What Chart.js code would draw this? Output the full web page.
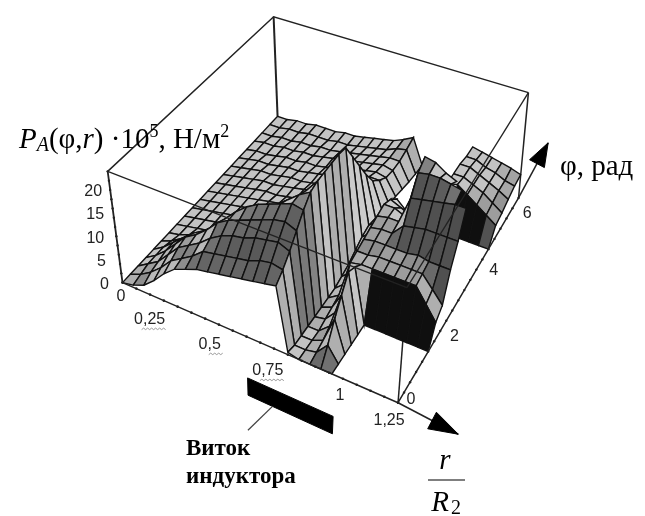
<!DOCTYPE html>
<html>
<head>
<meta charset="utf-8">
<title>P_A</title>
<script src="https://cdn.jsdelivr.net/npm/chart.js@4"></script>
<style>
    html, body { margin: 0; padding: 0; background: #fff; }
    #wrap { width: 645px; height: 516px; }
</style>
</head>
<body>
<div id="wrap"><canvas id="chart"></canvas></div>
<script>
// tick labels
const rTicks = [0.25, 0.5, 0.75, 1, 1.25];
const rTickLabels = ['0,25', '0,5', '0,75', '1', '1,25'];
const phiTicks = [0, 2, 4, 6];
const zTicks = [0, 5, 10, 15, 20];

// r = 0 ... 1.25, step 0.05 (26 columns)
const rValues = [0, .05, .1, .15, .2, .25, .3, .35, .4, .45, .5, .55, .6, .65, .7, .75, .8, .85, .9, .95, 1, 1.05, 1.1, 1.15, 1.2, 1.25];
// phi = 0 ... 2pi, 21 rows
const phiValues = [0, .314, .628, .942, 1.257, 1.571, 1.885, 2.199, 2.513, 2.827, 3.142, 3.456, 3.77, 4.084, 4.398, 4.712, 5.027, 5.341, 5.655, 5.969, 6.283];

const _ = null; // no surface here
// P values, one row for each phi
const pressure = [
    [0,.5,1.5,3.5,6,8,9,10,10.5,11,11.5,12,12.5,13,13.5, .5,0,0,0,0,_,_,_,_,_,_],
    [0,1,2.5,4.5,7,8.5,10,12,12.5,13,13.5,14,15,15.5,15, 0,0,.5,3,0,_,_,_,_,_,_],
    [0,1.5,3,5.5,8,9.5,11,13,14.5,15.5,16,17,17.5,18,17, 0,0,1,6.5,0,_,_,_,_,_,_],
    [0,1.5,3.5,6,8.5,10,12,14.5,16,17,18,19,20,20.5,19.5, 0,0,2,9.5,0,_,_,_,_,_,_],
    [0,1.5,3.5,5.5,7.5,9,11,13.5,16,18,19.5,20.5,21.5,22.5,22, 0,.5,3,12.5,0,_,_,_,_,_,_],
    [0,1,2.5,4,5,6,7,8.5,10.5,13,16,18.5,20.5,22.5,24, 0,1,5,11.5,0,0,0,0,0,0,0],
    [0,.5,1.5,2.5,3,3.5,4,5,6.5,8.5,11.5,14,17.5,21.5,24.5, 0,1.5,9.5,10,10,10,10,10,10,7,4],
    [0,.5,1,1.5,2,2.5,3,3.5,5,7,9.5,12,15.5,20,24.5, 0,2,10,10,10.5,10.5,10.5,10.5,10.5,8,5.5],
    [0,.5,1,1.5,2,2.5,3,3.5,4.5,6.5,9,12,15.5,20,24.5, .5,2.5,10.5,11,11,11,11,11.5,11,11,11],
    [0,.5,1,1.5,2,2.5,3,3.5,4.5,6,9,12,15.5,20,24.5, 1,3,11,11.5,11.5,14,14.5,15,15,15,15],
    [0,.5,1,1.5,2,2.5,3,3.5,4.5,6,9,12,15.5,20,24, 2,4,11.5,12,12,18,18.5,19,19.5,20,20],
    [0,.5,1,1.5,2,2.5,3,3.5,4,5,7,9,11.5,15,20, 3,5,12,12,11,21.5,22,22,21.5,21,_],
    [0,.5,1,1.5,2,2.5,2.5,3,3.5,4.5,6,7.5,9.5,12,16, 3.5,5.5,11,10,9,23,22.5,21,20,_,_],
    [0,.5,1,1.5,2,2,2.5,3,3.5,4,5.5,6.5,8,10,12, 3,5,9,7,5,_,_,_,_,_,_],
    [0,.5,1,1.5,1.5,2,2.5,2.5,3,3.5,5,6,7,8,8.5, 2.5,3.5,_,_,_,_,_,_,_,_,_],
    [0,.5,1,1,1.5,2,2,2.5,3,3.5,4.5,5.5,6,6.5,6.5, 2,_,_,_,_,_,0,0,0,0,0],
    [0,.5,.5,1,1.5,1.5,2,2,2.5,3,4,4.5,5,5.5,5, 1.5,_,_,_,_,8.5,9,7.5,6,4.5,3],
    [0,.5,.5,1,1,1.5,1.5,2,2.5,3,3.5,4,4.5,5,4.5, 1,_,_,_,_,8.5,8.5,7.5,6.5,5,3.5],
    [0,0,.5,.5,1,1,1.5,1.5,2,2.5,3,3.5,4,4.5,4.5, .5,_,_,_,_,8.5,8.5,7.5,6.5,5.5,4.3],
    [0,0,.5,.5,1,1,1,1.5,1.5,2,2.5,3,3.5,4.5,5, .2,_,_,_,_,8,8,7,6.5,5.5,5],
    [0,0,.5,.5,1,1,1,1.5,1.5,2,2.5,3,3.5,4.5,5.7, 0,_,_,_,_,8,7.5,7,6.5,6,5.3]
];

const rMax = 1.25, phiMax = 6.283, zMax = 24;

// corners of the drawn box on the page, [r=0,phi=0], [rMax,0], [rMax,phiMax], [0,phiMax]
const floorBox = [[120, 283], [399, 405], [521, 197], [277, 114]];
const topBox = [[105, 170], [408, 288], [531, 90], [273, 13]];

function project(r, phi, z) {
    const u = r / rMax, v = phi / phiMax, w = z / zMax;
    const bil = (b, k) => b[0][k] * (1 - u) * (1 - v) + b[1][k] * u * (1 - v) + b[2][k] * u * v + b[3][k] * (1 - u) * v;
    return {
        x: bil(floorBox, 0) * (1 - w) + bil(topBox, 0) * w,
        y: bil(floorBox, 1) * (1 - w) + bil(topBox, 1) * w
    };
}

// grey of one facet from its slopes: rising towards phi goes dark
function facetGrey(dzR, dzPhi) {
    let g = 195;
    if (dzPhi >= 5.2) g = 15;
    else if (dzPhi > 0) g -= 120 * (1 - Math.exp(-dzPhi / 1.3));
    else g += Math.min(35, -dzPhi * 5);
    if (dzR > 8) g = Math.max(g, 140);                        // back side of a wall
    else if (dzR > 1.5) g = Math.max(g, 185);
    else if (dzR < -2 && dzR > -18) g = Math.max(g, 175);     // wall falling towards the viewer
    g = Math.round(Math.max(10, Math.min(245, g)));
    return `rgb(${g},${g},${g})`;
}

function lineSet(points, color, width, extra) {
    return Object.assign({ data: points, borderColor: color, borderWidth: width, pointRadius: 0, fill: false, tension: 0 }, extra || {});
}

function polygonSet(points, fillColor, edgeColor, width) {
    return lineSet(points.concat([points[0]]), edgeColor, width, { fill: 'shape', backgroundColor: fillColor });
}

function arrowHead(from, to, length, width) {
    const d = Math.hypot(to.x - from.x, to.y - from.y);
    const ux = (to.x - from.x) / d, uy = (to.y - from.y) / d;
    const bx = to.x - ux * length, by = to.y - uy * length;
    return [to, { x: bx - uy * width / 2, y: by + ux * width / 2 }, { x: bx + uy * width / 2, y: by - ux * width / 2 }];
}

// back to front: everything pushed later is drawn over what came before
const layers = [];

// back walls of the box
const boxA = project(0, 0, 0), boxB = project(rMax, 0, 0), boxC = project(rMax, phiMax, 0), boxD = project(0, phiMax, 0);
const boxE = project(0, 0, zMax), boxF = project(rMax, 0, zMax), boxG = project(rMax, phiMax, zMax), boxH = project(0, phiMax, zMax);
layers.push(lineSet([boxE, boxH, boxG], '#222', 1.5));
layers.push(lineSet([boxD, boxH], '#222', 2));
layers.push(lineSet([boxC, boxG], '#222', 1.5));
layers.push(lineSet([boxB, boxF], '#222', 1.5));

// surface facets, far rows first
for (let j = phiValues.length - 2; j >= 0; j--) {
    for (let i = 0; i < rValues.length - 1; i++) {
        const a = pressure[j][i], b = pressure[j][i + 1], c = pressure[j + 1][i + 1], d = pressure[j + 1][i];
        if (a === null || b === null || c === null || d === null) continue;
        const dzR = (b + c - a - d) / 2, dzPhi = (c + d - a - b) / 2;
        layers.push(polygonSet([
            project(rValues[i], phiValues[j], a),
            project(rValues[i + 1], phiValues[j], b),
            project(rValues[i + 1], phiValues[j + 1], c),
            project(rValues[i], phiValues[j + 1], d)
        ], facetGrey(dzR, dzPhi), '#111', 1.4));
    }
}

// edges of the box that run over the surface
layers.push(lineSet([boxE, boxF], '#222', 1.3));
layers.push(lineSet([boxG, boxF], '#222', 1.3));

// axes with their small ticks
const minorR = [], minorPhi = [], minorZ = [];
for (let t = 0; t <= 20; t++) minorR.push(project(rMax * t / 20, 0, 0));
for (let t = 0; t <= 20; t++) minorPhi.push(project(rMax, phiMax * t / 20, 0));
for (let t = 0; t <= 24; t += 2) minorZ.push(project(0, 0, t));
layers.push(lineSet(minorR, '#222', 1.5, { pointRadius: 1.3, pointBackgroundColor: '#222', pointBorderWidth: 0 }));
layers.push(lineSet(minorPhi, '#222', 1.5, { pointRadius: 1.2, pointBackgroundColor: '#222', pointBorderWidth: 0 }));
layers.push(lineSet(minorZ, '#222', 1.8, { pointRadius: 1.2, pointBackgroundColor: '#222', pointBorderWidth: 0 }));

// axis arrows
const rTip = { x: 460, y: 437 }, phiTip = { x: 551, y: 141 };
layers.push(lineSet([boxB, rTip], '#222', 1.5));
layers.push(polygonSet(arrowHead(boxB, rTip, 30, 19), '#000', '#000', 1));
layers.push(lineSet([boxC, phiTip], '#222', 1.5));
layers.push(polygonSet(arrowHead(boxC, phiTip, 24, 17), '#000', '#000', 1));

// coil of the inductor below the r axis
const coilRange = [.67, 1.05], coilPhi = -1.04, coilDepth = -3.6;
layers.push(polygonSet([
    project(coilRange[0], coilPhi, 0), project(coilRange[1], coilPhi, 0),
    project(coilRange[1], coilPhi, coilDepth), project(coilRange[0], coilPhi, coilDepth)
], '#000', '#000', 1));
layers.push(lineSet([project(.78, coilPhi, coilDepth), { x: 247, y: 433 }], '#444', 1.3));

// text is drawn by hand because the axes are tilted
const labelPlugin = {
    id: 'labels',
    afterDraw(chart) {
        const ctx = chart.ctx;
        const sx = chart.scales.x, sy = chart.scales.y;
        const px = p => ({ x: sx.getPixelForValue(p.x), y: sy.getPixelForValue(p.y) });
        ctx.save();
        ctx.textBaseline = 'middle';
        ctx.textAlign = 'center';
        ctx.fillStyle = '#222';
        ctx.font = '16px "Liberation Sans"';

        const rDx = [-28, -23, -20, -3, -9], rDy = [13, 14, 16, 17, 18];
        rTicks.forEach((t, k) => {
            const p = px(project(t, 0, 0));
            ctx.fillText(rTickLabels[k], p.x + rDx[k], p.y + rDy[k]);
            if (rTickLabels[k].length > 1 && rTickLabels[k] !== '1,25') {
                // spell check squiggle under the decimals
                const w = rTickLabels[k].length > 3 ? 24 : 15;
                const x0 = p.x + rDx[k] + (k === 1 ? -1 : -8), y0 = p.y + rDy[k] + 9;
                ctx.save();
                ctx.strokeStyle = '#999';
                ctx.lineWidth = 1;
                ctx.beginPath();
                for (let q = 0; q <= w; q += 2) ctx.lineTo(x0 + q, y0 + (q % 4 === 0 ? 1 : -0.5));
                ctx.stroke();
                ctx.restore();
            }
        });
        ctx.fillText('0', 121, 297);

        const phiDx = [13, 18, 19, 14], phiDy = [-3, -1, -2, 6];
        phiTicks.forEach((t, k) => {
            const p = px(project(rMax, t, 0));
            ctx.fillText(String(t), p.x + phiDx[k], p.y + phiDy[k]);
        });

        const zOffset = [-18, -18, -21, -18, -17];
        zTicks.forEach((t, k) => {
            const p = px(project(0, 0, t));
            ctx.fillText(String(t), p.x + zOffset[k], p.y + 2);
        });

        // axis titles
        ctx.textAlign = 'left';
        ctx.fillStyle = '#000';
        const runs = [
            ['P', 'italic 29px "Liberation Serif"', 0],
            ['A', 'italic 20px "Liberation Serif"', 6],
            ['(φ,', '29px "Liberation Serif"', 0],
            ['r', 'italic 29px "Liberation Serif"', 0],
            [') ·10', '29px "Liberation Serif"', 0],
            ['5', '18px "Liberation Serif"', -8],
            [', Н/м', '29px "Liberation Serif"', 0],
            ['2', '18px "Liberation Serif"', -8]
        ];
        let cursor = 19;
        runs.forEach(run => {
            ctx.font = run[1];
            ctx.fillText(run[0], cursor, 140 + run[2]);
            cursor += ctx.measureText(run[0]).width;
        });

        ctx.font = '29px "Liberation Serif"';
        ctx.fillText('φ, рад', 560, 167);

        ctx.font = 'bold 23px "Liberation Serif"';
        ctx.fillText('Виток', 186, 449);
        ctx.fillText('индуктора', 186, 477);

        ctx.textAlign = 'center';
        ctx.font = 'italic 29px "Liberation Serif"';
        ctx.fillText('r', 445, 461);
        ctx.fillText('R', 440, 503);
        ctx.font = '20px "Liberation Serif"';
        ctx.fillText('2', 456, 509);
        ctx.strokeStyle = '#000';
        ctx.lineWidth = 1.2;
        ctx.beginPath();
        ctx.moveTo(428, 480);
        ctx.lineTo(465, 480);
        ctx.stroke();
        ctx.restore();
    }
};

// first dataset is drawn last in Chart.js, so the list goes in reverse
new Chart(document.getElementById('chart'), {
    type: 'line',
    data: { datasets: layers.slice().reverse() },
    options: {
        responsive: true,
        maintainAspectRatio: false,
        animation: false,
        events: [],
        clip: false,
        layout: { padding: 0 },
        plugins: { legend: { display: false }, tooltip: { enabled: false } },
        scales: {
            x: { type: 'linear', min: 0, max: 645, display: false },
            y: { type: 'linear', min: 0, max: 516, reverse: true, display: false }
        }
    },
    plugins: [labelPlugin]
});
</script>
</body>
</html>
